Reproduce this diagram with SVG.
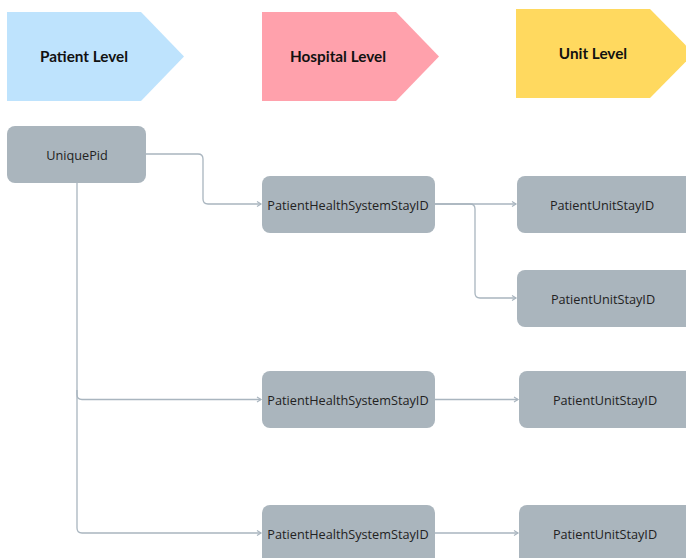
<svg xmlns="http://www.w3.org/2000/svg" width="686" height="558" viewBox="0 0 686 558">
<style>
.hdr{font-family:"Lato","Inter","Liberation Sans",sans-serif;font-weight:bold;font-size:15.3px;fill:#111;text-anchor:middle;dominant-baseline:central}
.box{fill:#AAB5BD}
.lbl{font-family:"Open Sans","Noto Sans","Liberation Sans",sans-serif;font-size:12.7px;fill:#222;text-anchor:middle;dominant-baseline:central}
.con{fill:none;stroke:#A9B5BF;stroke-width:1.3}
</style>
<defs>
<marker id="arr" markerWidth="8" markerHeight="8" refX="6" refY="4" orient="auto" markerUnits="userSpaceOnUse">
<path d="M2,1.5 L6,4 L2,6.5" fill="none" stroke="#A9B5BF" stroke-width="1.2"/>
</marker>
</defs>
<g id="hdr-patient"><polygon points="7,12 141,12 184,56.5 141,101 7,101" fill="#BEE3FD"/><text class="hdr" x="84" y="56">Patient Level</text></g>
<g id="hdr-hospital"><polygon points="262,12 396,12 439,56.5 396,101 262,101" fill="#FFA1AC"/><text class="hdr" x="338" y="56">Hospital Level</text></g>
<g id="hdr-unit"><polygon points="516,9 650,9 694,53.5 650,98 516,98" fill="#FFD95F"/><text class="hdr" x="593" y="52.5">Unit Level</text></g>
<g id="connectors">
<path class="con" d="M146,154 H198 Q203,154 203,159 V199 Q203,204 208,204 H261" marker-end="url(#arr)"/>
<path class="con" d="M77,183 V394.5 Q77,399.5 82,399.5 H261" marker-end="url(#arr)"/>
<path class="con" d="M77,390 V528 Q77,533 82,533 H261" marker-end="url(#arr)"/>
<path class="con" d="M435,204 H516" marker-end="url(#arr)"/>
<path class="con" d="M435,204 H470 Q475,204 475,209 V293 Q475,298 480,298 H516" marker-end="url(#arr)"/>
<path class="con" d="M434,399.5 H518" marker-end="url(#arr)"/>
<path class="con" d="M434,533 H518" marker-end="url(#arr)"/>
</g>
<g id="n-uniquepid"><rect class="box" x="7" y="126" width="139" height="57" rx="8"/><text class="lbl" x="77" y="155">UniquePid</text></g>
<g id="n-phs1"><rect class="box" x="262" y="176" width="173" height="57" rx="8"/><text class="lbl" x="348" y="204.5">PatientHealthSystemStayID</text></g>
<g id="n-phs2"><rect class="box" x="262" y="371" width="173" height="57" rx="8"/><text class="lbl" x="348" y="399.5">PatientHealthSystemStayID</text></g>
<g id="n-phs3"><rect class="box" x="262" y="505" width="173" height="70" rx="8"/><text class="lbl" x="348" y="533.5">PatientHealthSystemStayID</text></g>
<g id="n-pus1"><rect class="box" x="517" y="176" width="190" height="57" rx="8"/><text class="lbl" x="602" y="204.5">PatientUnitStayID</text></g>
<g id="n-pus2"><rect class="box" x="517" y="270" width="190" height="57" rx="8"/><text class="lbl" x="603" y="298.5">PatientUnitStayID</text></g>
<g id="n-pus3"><rect class="box" x="519" y="371" width="190" height="57" rx="8"/><text class="lbl" x="605" y="399.5">PatientUnitStayID</text></g>
<g id="n-pus4"><rect class="box" x="519" y="505" width="190" height="70" rx="8"/><text class="lbl" x="605" y="533.5">PatientUnitStayID</text></g>
</svg>
